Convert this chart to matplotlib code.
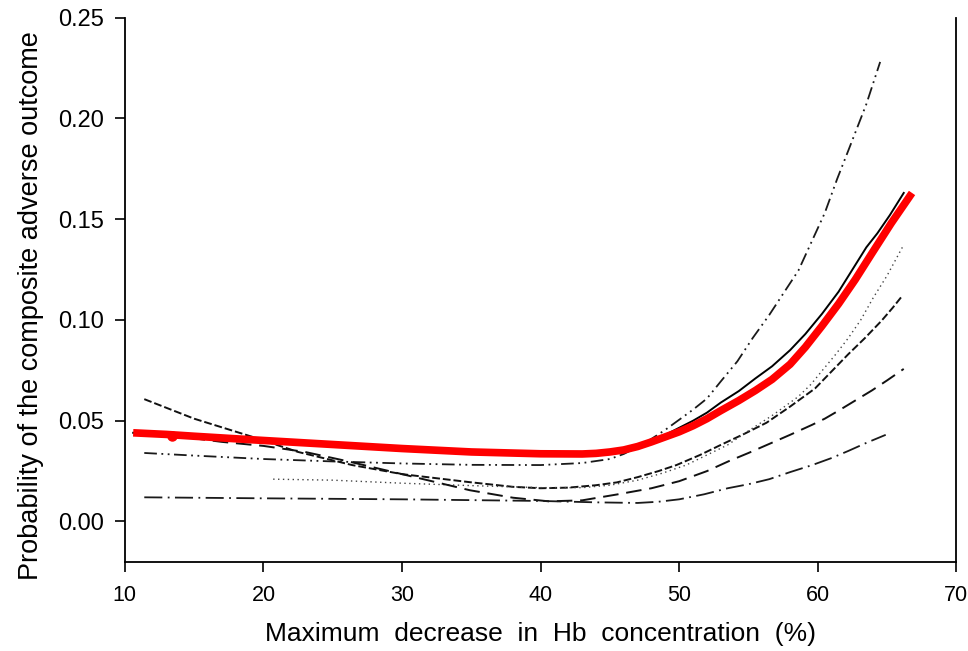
import matplotlib
matplotlib.use("Agg")
import matplotlib.pyplot as plt

# values
red_x = [10.6, 13, 15, 20, 25, 30, 35, 40, 43, 44, 45, 46, 47, 48, 49, 50, 51, 52, 53,
         54.3, 55.5, 56.7, 58, 59.1, 60.3, 61.5, 62.7, 63.9, 65.3, 66.8]
red_y = [0.044, 0.0432, 0.0423, 0.0402, 0.0382, 0.0362, 0.0345, 0.0336, 0.0335, 0.0338, 0.0345, 0.0355, 0.0372,
         0.0395, 0.042, 0.0445, 0.0475, 0.051, 0.055, 0.060, 0.065, 0.0705, 0.078, 0.0865, 0.097, 0.108,
         0.120, 0.133, 0.148, 0.163]

solid_x = [10.6, 15, 20, 25, 30, 35, 40, 43, 44, 45, 46, 47, 48, 49, 50, 51, 52, 53, 54.3,
           55.5, 56.7, 58, 59.1, 60.3, 61.5, 62.5, 63.5, 64.3, 65.2, 66.2]
solid_y = [0.044, 0.0423, 0.0402, 0.0382, 0.0362, 0.0345, 0.0336, 0.0336, 0.034, 0.0348, 0.036, 0.0378,
           0.040, 0.043, 0.0465, 0.050, 0.054, 0.059, 0.0647, 0.071, 0.077, 0.085, 0.093, 0.103, 0.114,
           0.125, 0.136, 0.143, 0.152, 0.163]

ddot_x = [11.4, 15, 20, 25, 30, 35, 40, 43, 45, 46, 47, 48, 49, 50, 51, 52, 53, 54.2, 55.3,
          56.5, 57.5, 58.6, 59.5, 60.5, 61.4, 62.2, 63.5, 64.5]
ddot_y = [0.034, 0.0327, 0.031, 0.0298, 0.0288, 0.0281, 0.0280, 0.029, 0.031, 0.0335, 0.037, 0.041,
          0.0455, 0.0505, 0.0555, 0.061, 0.0695, 0.0795, 0.091, 0.1025, 0.113, 0.1245, 0.138, 0.153,
          0.170, 0.184, 0.207, 0.228]

dash_x = [11.4, 15, 19.2, 22.5, 26.4, 30, 34.9, 38, 40, 42, 44, 45.5, 47, 48.5, 49.8, 51.5, 53,
          54.7, 56.3, 58, 59.8, 61, 62.2, 63.4, 64.6, 65.4, 66.1]
dash_y = [0.0607, 0.051, 0.042, 0.0345, 0.028, 0.0235, 0.0195, 0.0172, 0.0165, 0.0168, 0.018, 0.0194,
          0.022, 0.025, 0.028, 0.033, 0.038, 0.0435, 0.049, 0.057, 0.066, 0.0745, 0.083, 0.091, 0.0996,
          0.106, 0.112]

dot_x = [20.7, 25, 30, 35, 40, 43, 45, 47, 48.8, 50.5, 52, 53.5, 55, 56.8, 58.6, 59.5, 60.3, 61.3,
         62.2, 63.1, 64, 65, 66.1]
dot_y = [0.021, 0.0205, 0.019, 0.0178, 0.0168, 0.0168, 0.018, 0.0205, 0.024, 0.028, 0.033, 0.038,
         0.045, 0.053, 0.062, 0.068, 0.0747, 0.083, 0.091, 0.100, 0.111, 0.122, 0.136]

ldash_x = [13, 17, 20, 23, 26, 30, 34.9, 38, 40.6, 43, 45.5, 48, 50, 52, 53.6, 55, 56.5, 58, 59.6,
           60.5, 61.5, 62.7, 63.9, 65, 66.2]
ldash_y = [0.043, 0.0395, 0.0375, 0.0345, 0.030, 0.0235, 0.0155, 0.0118, 0.0100, 0.0105, 0.0134,
           0.0165, 0.020, 0.025, 0.030, 0.034, 0.0385, 0.043, 0.048, 0.051, 0.055, 0.060, 0.065,
           0.070, 0.0757]

ddash_x = [11.4, 20, 30, 40, 44, 47, 48.5, 50, 51.8, 53.5, 55, 56.5, 58, 59.6, 61, 62.2, 63.5, 64.9]
ddash_y = [0.012, 0.0115, 0.011, 0.0102, 0.0095, 0.0092, 0.0098, 0.011, 0.0135, 0.0165, 0.0185, 0.021,
           0.0245, 0.028, 0.0315, 0.035, 0.039, 0.043]

plt.rcParams['font.family'] = ['Liberation Sans', 'DejaVu Sans']

fig = plt.figure(figsize=(9.68, 6.51), dpi=100)
ax = fig.add_axes([0.129, 0.137, 0.859, 0.836])

ax.plot(ddot_x, ddot_y, color='#1a1a1a', lw=1.3, dashes=(7, 2.5, 1, 2.5, 1, 2.5))
ax.plot(dash_x, dash_y, color='#111111', lw=1.4, dashes=(4, 1.5))
ax.plot(dot_x, dot_y, color='#444444', lw=1.0, dashes=(1, 2.5))
ax.plot(ldash_x, ldash_y, color='#111111', lw=1.4, dashes=(8, 4))
ax.plot(ddash_x, ddash_y, color='#1a1a1a', lw=1.3, dashes=(10, 3, 1, 3))
ax.plot(solid_x, solid_y, color='black', lw=1.4)
ax.plot(red_x, red_y, color='#ff0000', lw=5.5, solid_capstyle='butt', solid_joinstyle='round')
ax.plot([13.4], [0.0423], 'o', color='#ff0000', ms=6.5)

ax.set_xlim(10, 70)
ax.set_ylim(-0.02, 0.25)
ax.set_xticks([10, 20, 30, 40, 50, 60, 70])
ax.set_yticks([0.0, 0.05, 0.10, 0.15, 0.20, 0.25])
ax.set_yticklabels(['0.00', '0.05', '0.10', '0.15', '0.20', '0.25'])
ax.tick_params(axis='both', direction='out', length=7, width=1.2, colors='black')
ax.tick_params(axis='y', labelsize=17, pad=8)
ax.tick_params(axis='x', labelsize=15.5, pad=10)
ax.spines['top'].set_visible(False)
for s in ['left', 'bottom', 'right']:
    ax.spines[s].set_linewidth(1.3)

ax.set_xlabel('Maximum  decrease  in  Hb  concentration  (%)', fontsize=19, labelpad=11)
ax.set_ylabel('Probability of the composite adverse outcome', fontsize=19.5)
ax.yaxis.set_label_coords(-0.097, 0.47)

fig.savefig('out.png', dpi=100)
